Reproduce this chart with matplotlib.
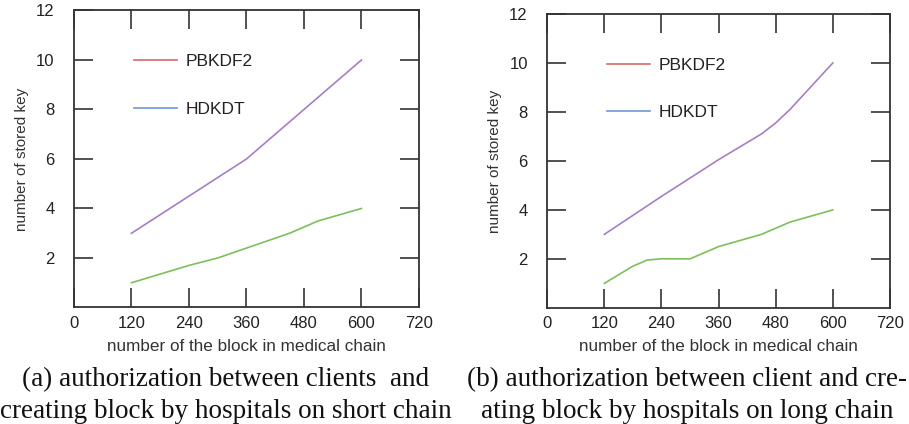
import matplotlib
matplotlib.use("Agg")
import matplotlib.pyplot as plt
from matplotlib.lines import Line2D

# panel (a): short chain
short_x_upper = [120, 240, 360, 480, 600]
short_upper = [3, 4.5, 6, 8, 10]
short_x_lower = [120, 240, 300, 360, 450, 510, 600]
short_lower = [1, 1.7, 2, 2.4, 3, 3.5, 4]

# panel (b): long chain
long_x_upper = [120, 240, 360, 450, 480, 510, 600]
long_upper = [3, 4.55, 6.05, 7.1, 7.55, 8.1, 10]
long_x_lower = [120, 180, 210, 240, 300, 360, 450, 510, 600]
long_lower = [1, 1.7, 1.95, 2.0, 2.0, 2.5, 3, 3.5, 4]

legend_labels = ["PBKDF2", "HDKDT"]
legend_colors = ["#d46a6a", "#6f97d6"]

xticks = [0, 120, 240, 360, 480, 600, 720]
yticks = [2, 4, 6, 8, 10, 12]

captions = [
    "(a) authorization between clients  and\ncreating block by hospitals on short chain",
    "(b) authorization between client and cre-\nating block by hospitals on long chain",
]

plt.rcParams['font.family'] = ['Liberation Sans', 'DejaVu Sans']

fig = plt.figure(figsize=(9.09, 4.24), dpi=100)
ax1 = fig.add_axes([0.0814, 0.2748, 0.3795, 0.7005])
ax2 = fig.add_axes([0.602, 0.274, 0.377, 0.693])

panels = [
    (ax1, short_x_upper, short_upper, short_x_lower, short_lower),
    (ax2, long_x_upper, long_upper, long_x_lower, long_lower),
]

for ax, xu, yu, xl, yl in panels:
    ax.plot(xu, yu, color="#a67fc4", lw=1.2)
    ax.plot(xl, yl, color="#7dbf5a", lw=1.2)
    ax.set_xlim(0, 720)
    ax.set_ylim(0, 12)
    ax.set_xticks(xticks)
    ax.set_yticks(yticks)
    ax.tick_params(direction="in", length=14, width=1.2, colors="#333333",
                   labelsize=12, top=True, right=True, labelcolor="#222222")
    ax.tick_params(axis="y", pad=14)
    ax.tick_params(axis="x", pad=6)
    for s in ax.spines.values():
        s.set_linewidth(1.3)
        s.set_color("#333333")
    ax.set_ylabel("number of stored key", fontsize=11, color="#333333", labelpad=5)
    ax.set_xlabel("number of the block in medical chain", fontsize=12.3,
                  color="#333333", labelpad=6)
    handles = [Line2D([], [], color=c, lw=1.2) for c in legend_colors]
    ax.legend(handles, legend_labels, frameon=False, loc="upper left",
              bbox_to_anchor=(0.13, 0.905), fontsize=12.5, handlelength=2.45,
              handletextpad=0.5, labelspacing=1.85, labelcolor="#222222")

fig.text(0.248, 0.0, captions[0], ha="center", va="bottom", fontsize=19.5,
         family="Liberation Serif", linespacing=1.35, color="#111111")
fig.text(0.756, 0.0, captions[1], ha="center", va="bottom", fontsize=19.5,
         family="Liberation Serif", linespacing=1.35, color="#111111")

fig.savefig("out.png", dpi=100)
